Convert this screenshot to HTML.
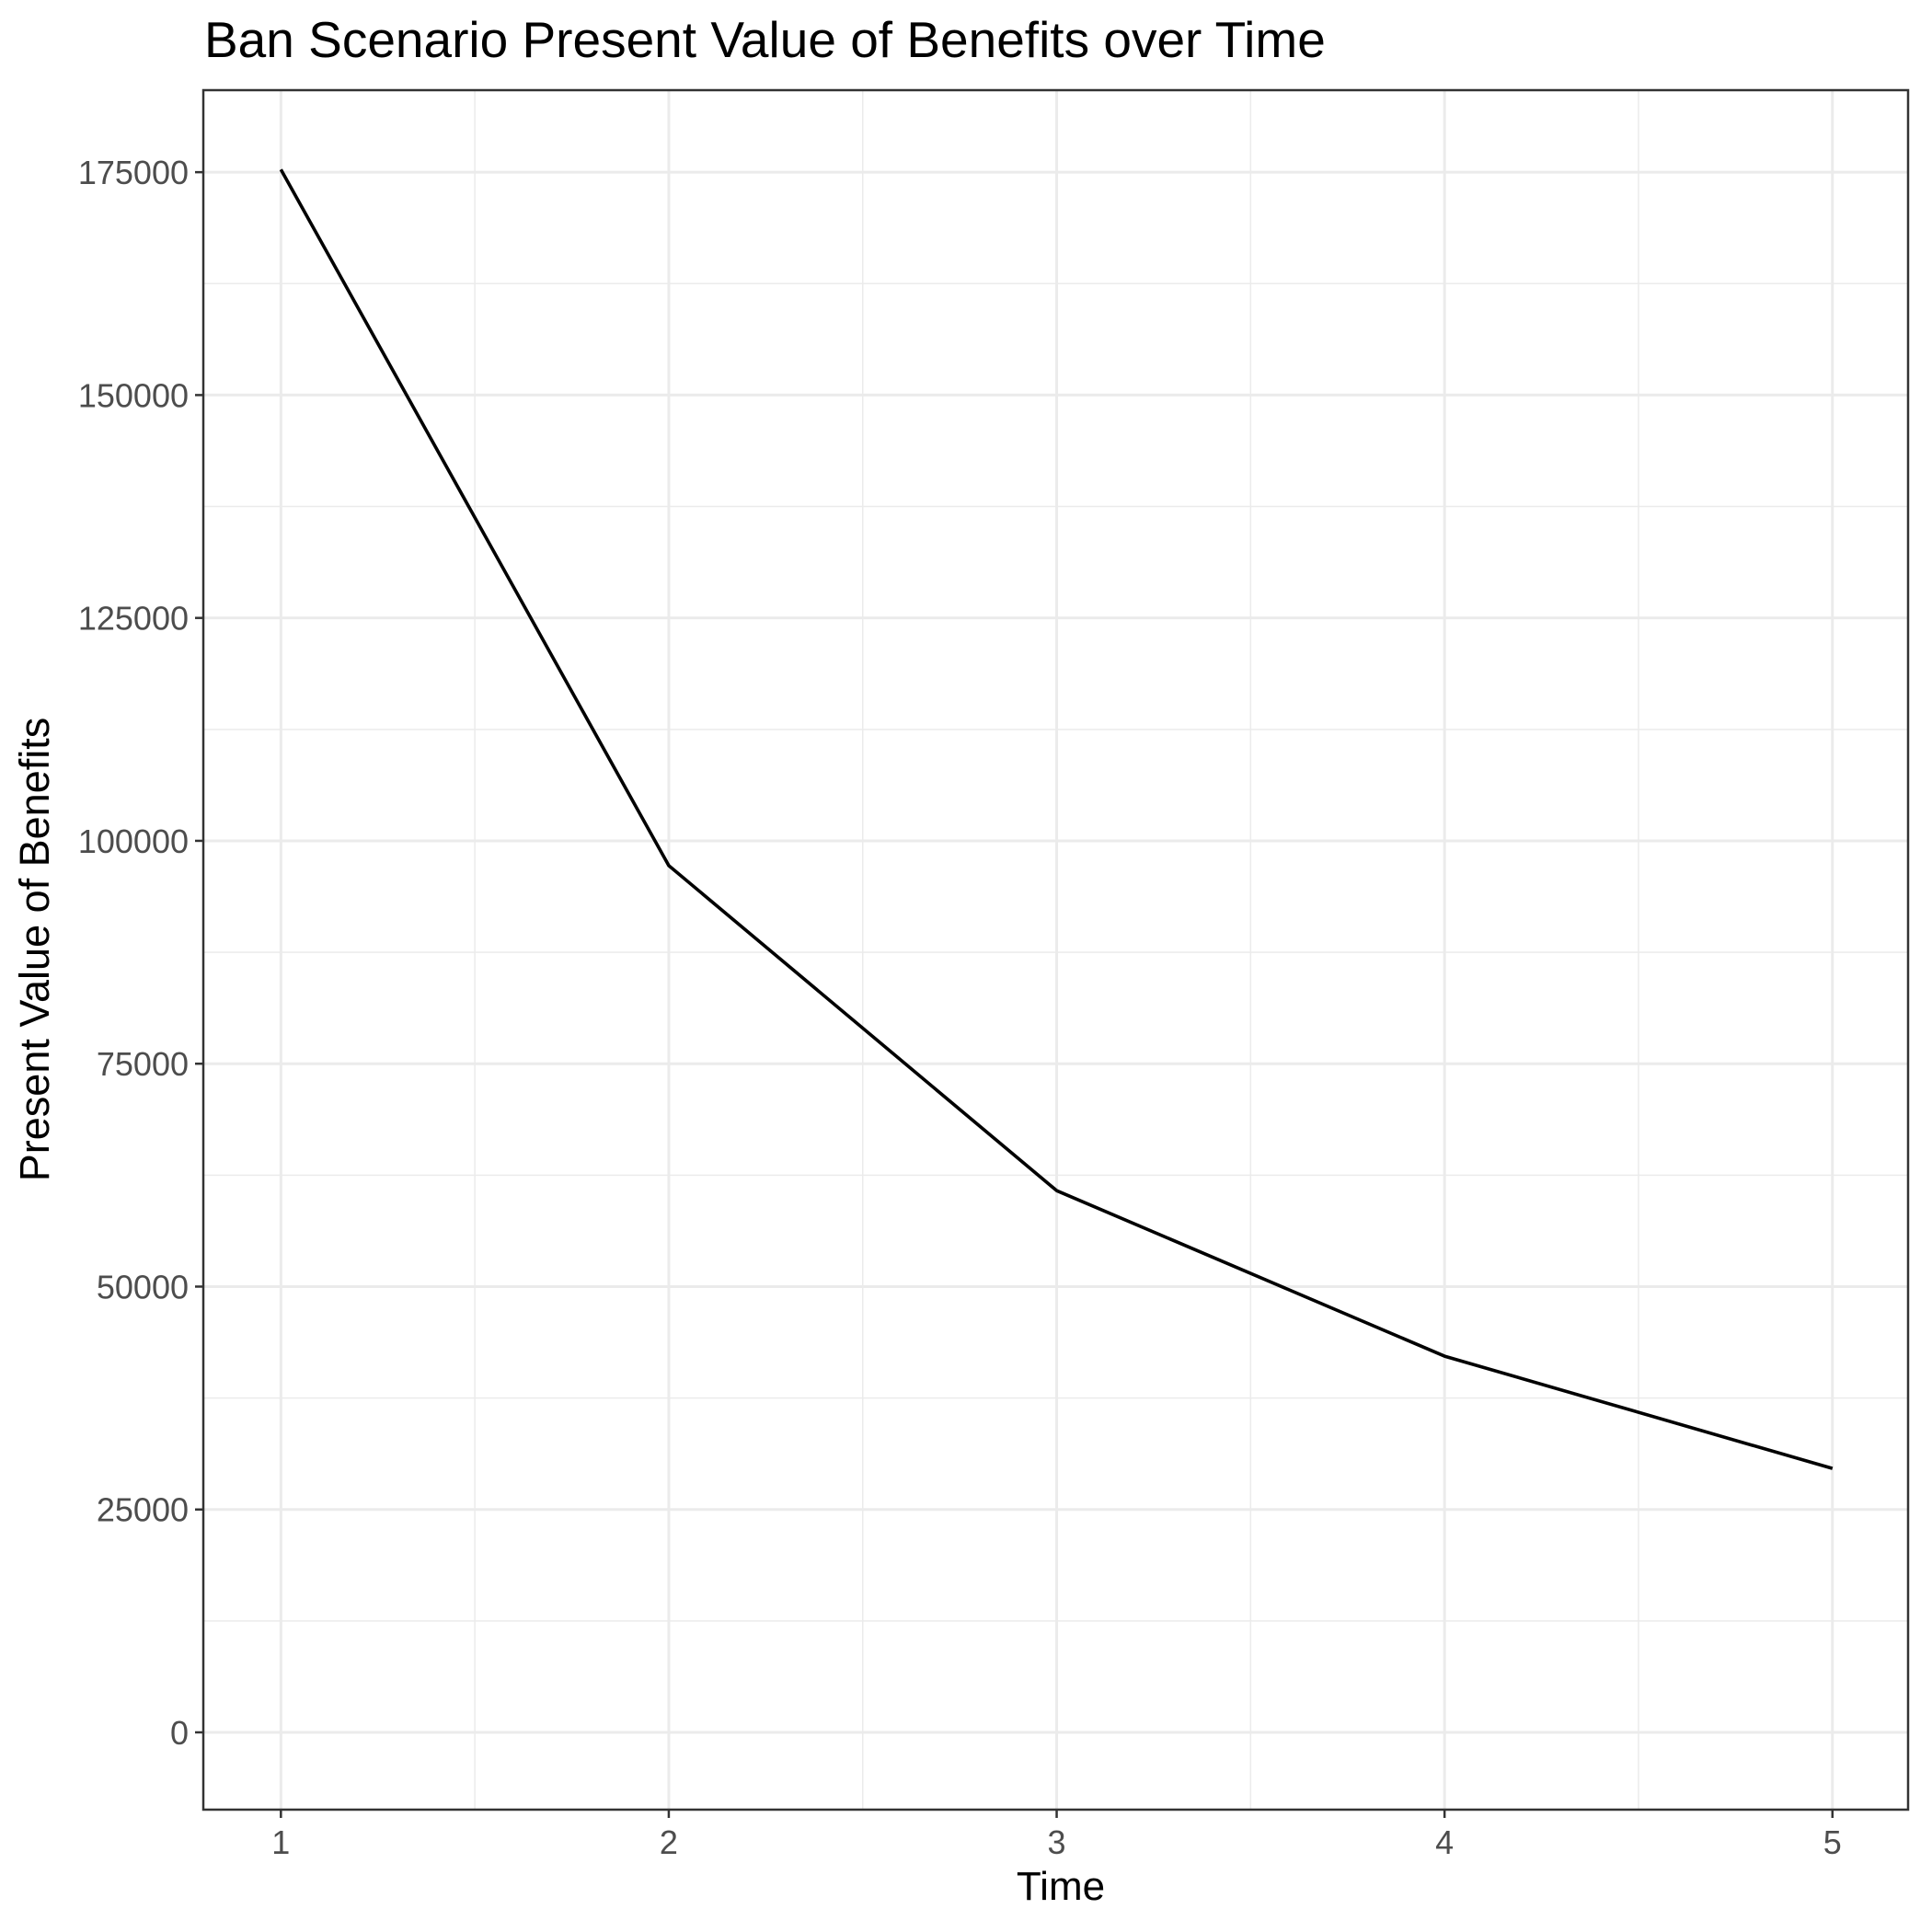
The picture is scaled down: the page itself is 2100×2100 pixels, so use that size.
<!DOCTYPE html>
<html><head><meta charset="utf-8"><style>
html,body{margin:0;padding:0;background:#fff;}
svg{display:block;font-family:"Liberation Sans",Arial,sans-serif;}
</style></head><body>
<svg id="chart" width="2100" height="2100" viewBox="0 0 2100 2100">
<text x="222" y="62" font-size="55" fill="#000">Ban Scenario Present Value of Benefits over Time</text>
<g id="grid"></g>
<g id="series"></g>
<rect x="221" y="98" width="1853" height="1869" fill="none" stroke="#333" stroke-width="2.5"/>
<g id="axes"></g>
<text x="1153" y="2065" font-size="44" text-anchor="middle" fill="#000">Time</text>
<text transform="translate(53,1032) rotate(-90)" font-size="45" text-anchor="middle" fill="#000">Present Value of Benefits</text>
</svg>
<script>
const times = [1, 2, 3, 4, 5];
const values = [175300, 97222, 60764, 42197, 29600];
const yTicks = [0, 25000, 50000, 75000, 100000, 125000, 150000, 175000];
const xTicks = [1, 2, 3, 4, 5];

const NS = "http://www.w3.org/2000/svg";
const L = 221, R = 2074, T = 98, B = 1967;
const xMin = 0.8, xMax = 5.195, yMin = -8668, yMax = 184200;
function xs(v){ return L + (v - xMin) / (xMax - xMin) * (R - L); }
function ys(v){ return B - (v - yMin) / (yMax - yMin) * (B - T); }
function mk(tag, attrs, parent){ const e = document.createElementNS(NS, tag); for (const k in attrs) e.setAttribute(k, attrs[k]); parent.appendChild(e); return e; }

const grid = document.getElementById('grid');
const axes = document.getElementById('axes');
const series = document.getElementById('series');

for (let i = 0; i < yTicks.length - 1; i++) {
  const m = (yTicks[i] + yTicks[i+1]) / 2;
  const ln = mk('line', {x1:L, x2:R, y1:ys(m), y2:ys(m), stroke:'#ebebeb', 'stroke-width':1.5}, grid);
  
  
}
const ylast = yTicks[yTicks.length-1] + 12500;
if (ys(ylast) > T) { const ln = mk('line', {x1:L, x2:R, y1:ys(ylast), y2:ys(ylast), stroke:'#ebebeb', 'stroke-width':1.5}, grid);   }
for (let i = 0; i < xTicks.length - 1; i++) {
  const m = (xTicks[i] + xTicks[i+1]) / 2;
  const ln = mk('line', {x1:xs(m), x2:xs(m), y1:T, y2:B, stroke:'#ebebeb', 'stroke-width':1.5}, grid);
  
  
}
yTicks.forEach(v => {
  const y = ys(v);
  const g = mk('line', {x1:L, x2:R, y1:y, y2:y, stroke:'#ebebeb', 'stroke-width':3}, grid);
  
  
  const t = mk('line', {x1:L-9, x2:L, y1:y, y2:y, stroke:'#333', 'stroke-width':2.5}, axes);
  
  
  const tx = mk('text', {x:L-16, y:y+13, 'font-size':36, 'text-anchor':'end', fill:'#4d4d4d'}, axes);
  tx.textContent = String(v);
  
  
});
xTicks.forEach(v => {
  const x = xs(v);
  const g = mk('line', {x1:x, x2:x, y1:T, y2:B, stroke:'#ebebeb', 'stroke-width':3}, grid);
  
  
  const t = mk('line', {x1:x, x2:x, y1:B, y2:B+9, stroke:'#333', 'stroke-width':2.5}, axes);
  
  
  const tx = mk('text', {x:x, y:B+48, 'font-size':36, 'text-anchor':'middle', fill:'#4d4d4d'}, axes);
  tx.textContent = String(v);
  
  
});
const pts = times.map((t, i) => xs(t) + ',' + ys(values[i])).join(' ');
const pl = mk('polyline', {points:pts, fill:'none', stroke:'#000', 'stroke-width':3.6, 'stroke-linejoin':'round'}, series);


</script>
</body></html>
